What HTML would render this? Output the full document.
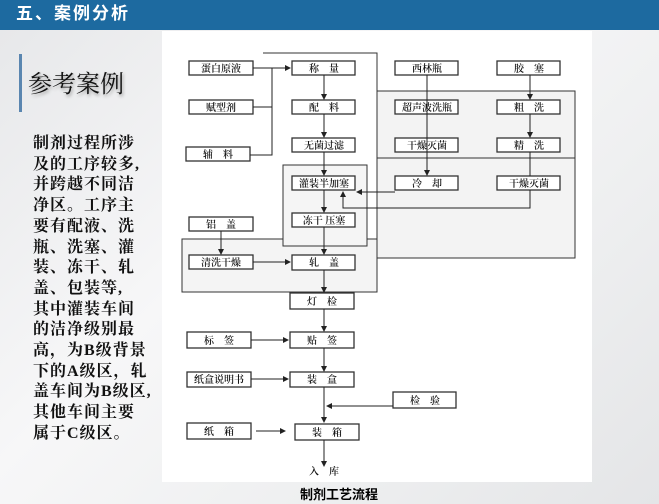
<!DOCTYPE html>
<html><head><meta charset="utf-8"><style>
body{margin:0;width:659px;height:504px;overflow:hidden;position:relative;font-family:"Liberation Serif","Noto Serif CJK SC",serif;background:linear-gradient(135deg,#e6e7e9 0%,#f7f7f8 40%,#eeeff0 70%,#e4e5e7 100%);}
.hdr{position:absolute;left:0;top:0;width:659px;height:30px;background:#1d6aa0;color:#fff;font:bold 17px "Liberation Sans","Noto Sans CJK SC",sans-serif;line-height:28px;padding-left:16px;box-sizing:border-box;letter-spacing:2px}
.bar{position:absolute;left:19px;top:54px;width:3px;height:58px;background:#5a86b0}
.t{position:absolute;left:28px;top:64px;font:24px "Noto Serif CJK SC",serif;color:#111;text-shadow:1px 2px 3px #999}
.p{position:absolute;left:33px;top:134px;font-weight:bold;font-size:16px;line-height:20.7px;color:#111;width:140px;letter-spacing:1px;font-family:"Liberation Serif","Noto Serif CJK SC",serif}
.img{position:absolute;left:162px;top:31px;width:430px;height:451px;background:#fff}
.cap{position:absolute;left:300px;top:484px;font:bold 13px "Noto Sans CJK SC",sans-serif;color:#000}
svg text{font-family:"Noto Serif CJK SC",serif;font-size:10px;fill:#111;text-anchor:middle;font-weight:600}
</style></head><body>
<div class="hdr">五、案例分析</div>
<div class="bar"></div>
<div class="t">参考案例</div>
<div class="p">制剂过程所涉<br>及的工序较多,<br>并跨越不同洁<br>净区。工序主<br>要有配液、洗<br>瓶、洗塞、灌<br>装、冻干、轧<br>盖、包装等,<br>其中灌装车间<br>的洁净级别最<br>高，为B级背景<br>下的A级区，轧<br>盖车间为B级区,<br>其他车间主要<br>属于C级区。</div>
<div class="img"></div>
<svg style="position:absolute;left:0;top:0" width="659" height="504">
<defs><marker id="a" markerWidth="6" markerHeight="6" refX="5" refY="3" orient="auto"><path d="M0,0L6,3L0,6z" fill="#222"/></marker></defs>
<g stroke="#333" stroke-width="1">
<path d="M263,53H377V239H182V292H377V53" fill="#f4f4f4"/>
<rect x="377" y="91" width="198" height="167" fill="#f3f3f3"/>
<rect x="283" y="165" width="84" height="81" fill="#f5f5f5"/>
<line x1="377" y1="158" x2="575" y2="158"/>
</g>
<g fill="#fff" stroke="#333" stroke-width="1.3">
<rect x="189" y="61" width="64" height="14"/><rect x="292" y="61" width="63" height="14"/><rect x="395" y="61" width="63" height="14"/><rect x="497" y="61" width="63" height="14"/>
<rect x="189" y="100" width="64" height="14"/><rect x="292" y="100" width="63" height="14"/><rect x="395" y="100" width="63" height="14"/><rect x="497" y="100" width="63" height="14"/>
<rect x="186" y="147" width="64" height="14"/><rect x="292" y="138" width="63" height="14"/><rect x="395" y="138" width="63" height="14"/><rect x="497" y="138" width="63" height="14"/>
<rect x="292" y="176" width="63" height="14"/><rect x="395" y="176" width="63" height="14"/><rect x="497" y="176" width="63" height="14"/>
<rect x="189" y="217" width="64" height="14"/><rect x="292" y="213" width="63" height="14"/>
<rect x="189" y="255" width="64" height="14"/><rect x="292" y="255" width="63" height="15"/>
<rect x="290" y="293" width="64" height="16"/>
<rect x="187" y="332" width="64" height="16"/><rect x="290" y="332" width="64" height="16"/>
<rect x="187" y="372" width="64" height="15"/><rect x="290" y="372" width="64" height="15"/>
<rect x="393" y="392" width="63" height="16"/>
<rect x="187" y="423" width="64" height="16"/><rect x="295" y="424" width="64" height="16"/>
</g>
<g stroke="#222" stroke-width="1" fill="none">
<line x1="253" y1="68" x2="290" y2="68" marker-end="url(#a)"/>
<path d="M253,107H272V155H250"/><line x1="272" y1="68" x2="272" y2="107"/>
<line x1="324" y1="75" x2="324" y2="99" marker-end="url(#a)"/>
<line x1="324" y1="114" x2="324" y2="137" marker-end="url(#a)"/>
<line x1="324" y1="152" x2="324" y2="175" marker-end="url(#a)"/>
<line x1="324" y1="190" x2="324" y2="212" marker-end="url(#a)"/>
<line x1="324" y1="227" x2="324" y2="254" marker-end="url(#a)"/>
<line x1="324" y1="270" x2="324" y2="292" marker-end="url(#a)"/>
<line x1="324" y1="309" x2="324" y2="331" marker-end="url(#a)"/>
<line x1="324" y1="348" x2="324" y2="371" marker-end="url(#a)"/>
<line x1="324" y1="387" x2="324" y2="422" marker-end="url(#a)"/>
<line x1="324" y1="440" x2="324" y2="466" marker-end="url(#a)"/>
<line x1="427" y1="75" x2="427" y2="175" marker-end="url(#a)"/>
<line x1="530" y1="75" x2="530" y2="99" marker-end="url(#a)"/>
<line x1="530" y1="114" x2="530" y2="137" marker-end="url(#a)"/>
<line x1="530" y1="152" x2="530" y2="176"/>
<line x1="395" y1="192" x2="357" y2="192" marker-end="url(#a)"/>
<path d="M530,190V208H343V192" marker-end="url(#a)"/>
<line x1="221" y1="231" x2="221" y2="254" marker-end="url(#a)"/>
<line x1="253" y1="262" x2="290" y2="262" marker-end="url(#a)"/>
<line x1="251" y1="340" x2="288" y2="340" marker-end="url(#a)"/>
<line x1="251" y1="379" x2="288" y2="379" marker-end="url(#a)"/>
<line x1="256" y1="431" x2="285" y2="431" marker-end="url(#a)"/>
<line x1="393" y1="406" x2="327" y2="406" marker-end="url(#a)"/>
</g>
<text x="221" y="72">蛋白原液</text><text x="324" y="72">称　量</text><text x="427" y="72">西林瓶</text><text x="529" y="72">胶　塞</text>
<text x="221" y="111">赋型剂</text><text x="324" y="111">配　料</text><text x="427" y="111">超声波洗瓶</text><text x="529" y="111">粗　洗</text>
<text x="218" y="158">辅　料</text><text x="324" y="149">无菌过滤</text><text x="427" y="149">干燥灭菌</text><text x="529" y="149">精　洗</text>
<text x="324" y="187">灌装半加塞</text><text x="427" y="187">冷　却</text><text x="529" y="187">干燥灭菌</text>
<text x="221" y="228">铝　盖</text><text x="324" y="224">冻干 压塞</text>
<text x="221" y="266">清洗干燥</text><text x="324" y="266">轧　盖</text>
<text x="322" y="305">灯　检</text>
<text x="219" y="344">标　签</text><text x="322" y="344">贴　签</text>
<text x="219" y="383">纸盒说明书</text><text x="322" y="383">装　盒</text>
<text x="425" y="404">检　验</text>
<text x="219" y="435">纸　箱</text><text x="327" y="436">装　箱</text>
<text x="324" y="475">入　库</text>
</svg>
<div class="cap">制剂工艺流程</div>
</body></html>
